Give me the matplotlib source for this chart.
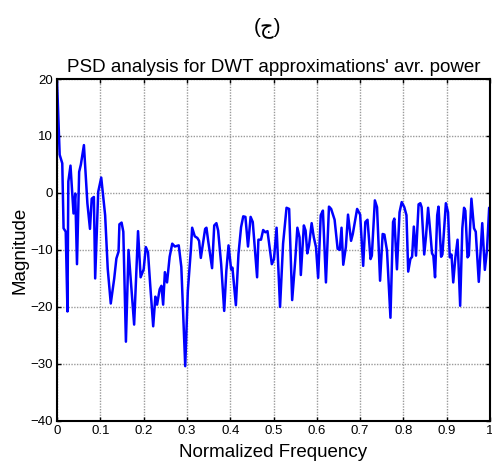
import matplotlib.pyplot as plt
import numpy as np

# values
freq = [0.000, 0.006, 0.012, 0.015, 0.020, 0.024, 0.026, 0.031, 0.038, 0.042,
        0.046, 0.051, 0.055, 0.062, 0.070, 0.076, 0.080, 0.085, 0.088, 0.095,
        0.102, 0.111, 0.117, 0.124, 0.132, 0.137, 0.142, 0.144, 0.149, 0.153,
        0.159, 0.165, 0.178, 0.187, 0.193, 0.200, 0.205, 0.210, 0.215, 0.222,
        0.227, 0.231, 0.237, 0.241, 0.245, 0.249, 0.254, 0.260, 0.266, 0.272,
        0.281, 0.287, 0.296, 0.302, 0.309, 0.312, 0.318, 0.324, 0.328, 0.332,
        0.342, 0.345, 0.349, 0.358, 0.363, 0.368, 0.372, 0.379, 0.386, 0.391,
        0.396, 0.402, 0.405, 0.413, 0.419, 0.425, 0.430, 0.435, 0.441, 0.447,
        0.452, 0.462, 0.465, 0.471, 0.476, 0.481, 0.486, 0.496, 0.501, 0.507,
        0.515, 0.522, 0.530, 0.536, 0.543, 0.550, 0.555, 0.560, 0.563, 0.570,
        0.574, 0.578, 0.582, 0.588, 0.593, 0.598, 0.603, 0.609, 0.614, 0.621,
        0.628, 0.633, 0.641, 0.648, 0.653, 0.657, 0.661, 0.667, 0.672, 0.679,
        0.683, 0.693, 0.700, 0.707, 0.712, 0.717, 0.724, 0.727, 0.734, 0.739,
        0.746, 0.752, 0.756, 0.762, 0.770, 0.776, 0.779, 0.785, 0.791, 0.796,
        0.802, 0.807, 0.811, 0.816, 0.820, 0.824, 0.829, 0.835, 0.839, 0.842,
        0.848, 0.852, 0.857, 0.862, 0.866, 0.869, 0.873, 0.878, 0.881, 0.887,
        0.890, 0.898, 0.903, 0.907, 0.911, 0.915, 0.920, 0.925, 0.931, 0.936,
        0.940, 0.943, 0.948, 0.951, 0.957, 0.963, 0.967, 0.974, 0.982, 0.988,
        0.993, 0.998, 1.000]
magnitude = [19.5, 6.7, 5.2, -6.2, -6.8, -20.8, 2.0, 4.8, -3.6, -0.1,
             -12.5, 3.7, 5.0, 8.4, -1.8, -6.3, -1.0, -0.7, -15.0, 0.2,
             2.7, -3.9, -13.3, -19.4, -15.0, -11.5, -10.3, -5.5, -5.2, -6.8,
             -26.1, -10.0, -23.1, -6.7, -14.8, -13.4, -9.5, -10.4, -16.0, -23.4,
             -18.2, -19.6, -16.9, -16.3, -19.6, -13.9, -15.7, -11.2, -8.9, -9.4,
             -9.2, -13.0, -30.4, -17.2, -10.0, -6.1, -7.6, -7.9, -8.4, -11.4,
             -6.3, -6.1, -8.4, -13.2, -5.7, -5.3, -6.6, -12.5, -20.7, -13.6,
             -9.2, -13.4, -13.1, -19.7, -10.7, -6.0, -4.1, -4.2, -9.4, -4.2,
             -5.1, -14.8, -8.2, -8.2, -6.5, -6.9, -6.7, -12.5, -11.6, -6.1,
             -20.0, -8.9, -2.6, -2.8, -18.8, -11.9, -6.1, -7.8, -14.4, -5.7,
             -6.6, -10.6, -9.2, -5.3, -7.8, -9.5, -14.9, -3.9, -3.1, -15.7,
             -2.4, -2.8, -4.7, -9.8, -10.0, -6.1, -12.6, -9.5, -3.8, -8.4,
             -7.2, -2.8, -3.8, -12.8, -5.1, -4.7, -11.6, -11.0, -1.3, -2.5,
             -15.4, -7.2, -7.3, -10.1, -21.9, -5.1, -4.5, -13.4, -3.4, -1.6,
             -2.5, -3.9, -13.8, -11.6, -11.2, -5.9, -11.0, -2.0, -1.8, -2.5,
             -10.8, -7.7, -2.6, -6.9, -10.6, -11.0, -14.8, -3.9, -2.4, -11.2,
             -10.8, -1.8, -3.4, -11.3, -10.8, -15.7, -11.3, -8.2, -19.8, -6.2,
             -2.6, -3.1, -11.3, -11.0, -1.0, -6.2, -6.8, -15.6, -5.3, -13.5,
             -10.0, -2.6, -3.0]

xticks = np.arange(0, 1.01, 0.1)
xtick_labels = ['0', '0.1', '0.2', '0.3', '0.4', '0.5', '0.6', '0.7', '0.8', '0.9', '1']
yticks = [-40, -30, -20, -10, 0, 10, 20]

plt.rcParams['font.family'] = ['Liberation Sans', 'DejaVu Sans']

fig = plt.figure(figsize=(4.92, 4.62), dpi=100)
ax = fig.add_axes([0.116, 0.089, 0.880, 0.740])

ax.plot(freq, magnitude, color='#0000ff', lw=1.8)

ax.set_xlim(0, 1)
ax.set_ylim(-40, 20)
ax.set_xticks(xticks)
ax.set_xticklabels(xtick_labels)
ax.set_yticks(yticks)
ax.tick_params(direction='in', top=True, right=True, length=3, width=1,
               labelsize=9.5, pad=3)

ax.grid(True, color='#9a9a9a', linestyle=(0, (1, 1)), lw=1)
for s in ax.spines.values():
    s.set_linewidth(1.5)

ax.set_xlabel('Normalized Frequency', fontsize=13.5, labelpad=5)
ax.set_ylabel('Magnitude', fontsize=13.5, labelpad=1)
ax.set_title("PSD analysis for DWT approximations' avr. power", fontsize=13.5, pad=5)

fig.text(0.543, 0.94, '(ج)', ha='center', va='center', fontsize=15,
         family=['Liberation Sans', 'DejaVu Sans'])

fig.savefig('out.png', dpi=100)
